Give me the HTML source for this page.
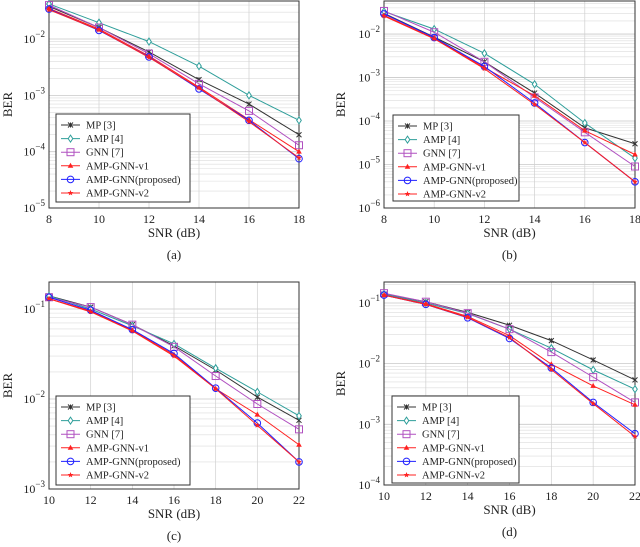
<!DOCTYPE html>
<html><head><meta charset="utf-8"><style>
body{margin:0;background:#fff;}
svg{display:block;font-family:"Liberation Serif",serif;}
</style></head><body>
<svg id="fig" width="640" height="547" viewBox="0 0 640 547" xmlns="http://www.w3.org/2000/svg"></svg>
<script>
const seriesNames = ["MP [3]","AMP [4]","GNN [7]","AMP-GNN-v1","AMP-GNN(proposed)","AMP-GNN-v2"];
const xA = [8,10,12,14,16,18];
const xC = [10,12,14,16,18,20,22];
const aMP=[0.038,0.016,0.0059,0.0019,0.0007,0.0002];
const aAMP=[0.042,0.0195,0.009,0.0033,0.001,0.00036];
const aGNN=[0.04,0.016,0.0055,0.0016,0.00053,0.00013];
const aV1=[0.035,0.015,0.005,0.0014,0.00037,0.0001];
const aProp=[0.034,0.0142,0.0048,0.0013,0.00036,0.000075];
const aV2=[0.033,0.0145,0.0047,0.00135,0.00034,0.000078];
const bMP=[0.03,0.0085,0.0023,0.00044,0.00007,0.00003];
const bAMP=[0.033,0.013,0.0036,0.0007,0.00009,0.000014];
const bGNN=[0.034,0.011,0.0023,0.00035,0.000055,0.000009];
const bV1=[0.027,0.008,0.0017,0.00038,0.00006,0.000017];
const bProp=[0.029,0.0083,0.0018,0.00026,0.000032,0.000004];
const bV2=[0.026,0.0078,0.0016,0.00024,0.000032,0.000004];
const cMP=[0.14,0.105,0.067,0.039,0.021,0.0105,0.0058];
const cAMP=[0.14,0.1,0.065,0.041,0.022,0.012,0.0065];
const cGNN=[0.135,0.105,0.067,0.038,0.018,0.0088,0.0046];
const cV1=[0.13,0.095,0.058,0.031,0.013,0.0067,0.0031];
const cProp=[0.135,0.097,0.059,0.032,0.0132,0.0054,0.002];
const cV2=[0.13,0.093,0.057,0.03,0.013,0.0051,0.002];
const dMP=[0.14,0.105,0.07,0.043,0.024,0.0115,0.0054];
const dAMP=[0.14,0.1,0.067,0.037,0.018,0.0079,0.0038];
const dGNN=[0.145,0.105,0.068,0.037,0.0155,0.006,0.0023];
const dV1=[0.135,0.097,0.06,0.029,0.0098,0.0043,0.0021];
const dProp=[0.135,0.095,0.057,0.026,0.0085,0.0023,0.0007];
const dV2=[0.135,0.095,0.058,0.027,0.008,0.0022,0.00063];
const xTicksA=[8,10,12,14,16,18];
const xTicksC=[10,12,14,16,18,20,22];

const colors=["#333333","#2e9e9a","#b050c0","#ff2020","#2020ff","#ff2020"];
const markers=["x","diamond","square","tri","circle","star"];
const NS="http://www.w3.org/2000/svg";
const svg=document.getElementById('fig');
function mk(tag,attrs,parent){const e=document.createElementNS(NS,tag);for(const k in attrs)e.setAttribute(k,attrs[k]);(parent||svg).appendChild(e);return e;}

function panel(cfg){
  const g=mk('g',{});
  
  
  const {L,R,T,B,xmin,xmax,lmin,lmax}=cfg;
  const X=v=>L+(v-xmin)/(xmax-xmin)*(R-L);
  const Y=v=>B-(Math.log10(v)-lmin)/(lmax-lmin)*(B-T);
  for(let d=Math.floor(lmin);d<=Math.ceil(lmax);d++){
    for(let m=1;m<10;m++){
      const v=m*Math.pow(10,d);const lv=Math.log10(v);
      if(lv<lmin-1e-9||lv>lmax+1e-9)continue;
      const y=Y(v);
      const gl=mk('line',{x1:L,x2:R,y1:y,y2:y,stroke:m===1?'#c8c8c8':'#dcdcdc','stroke-width':m===1?0.8:0.6},g);
      
      
      if(m===1){
        const t=mk('text',{x:L-4,y:y+4,'text-anchor':'end','font-size':12,fill:'#222'},g);
        
        
        t.appendChild(document.createTextNode('10'));
        const s=mk('tspan',{dy:-6,'font-size':9},t);s.textContent='−'+(-d);
      }
    }
  }
  cfg.xt.forEach(v=>{
    const x=X(v);
    const gl=mk('line',{x1:x,x2:x,y1:T,y2:B,stroke:'#d0d0d0','stroke-width':0.7},g);
    
    
    const t=mk('text',{x:x,y:B+15,'text-anchor':'middle','font-size':12,fill:'#222'},g);
    
    
    t.textContent=v;
  });
  const fr=mk('rect',{x:L,y:T,width:R-L,height:B-T,fill:'none',stroke:'#333','stroke-width':1},g);
  
  
  cfg.series.forEach((ys,i)=>{
    const pts=cfg.x.map((xv,j)=>[X(xv),Y(ys[j])]);
    const pl=mk('polyline',{points:pts.map(p=>p.join(',')).join(' '),fill:'none',stroke:colors[i],'stroke-width':1},g);
    
    
    pts.forEach(p=>{const m=marker(g,markers[i],p[0],p[1],colors[i]);
      
      });
  });
  const xl=mk('text',{x:(L+R)/2,y:B+29,'text-anchor':'middle','font-size':13,fill:'#222'},g);
  
  
  xl.textContent='SNR (dB)';
  const cy=(T+B)/2;
  const yl=mk('text',{x:cfg.ylx,y:cy,'text-anchor':'middle','font-size':13,fill:'#222',transform:`rotate(-90 ${cfg.ylx} ${cy})`},g);
  
  
  yl.textContent='BER';
  const cap=mk('text',{x:(L+R)/2,y:B+51,'text-anchor':'middle','font-size':13,fill:'#222'},g);
  
  
  cap.textContent='('+cfg.id+')';
  const lg=cfg.leg;
  const lgG=mk('g',{},g);
  
  
  mk('rect',{x:lg[0],y:lg[1],width:lg[2],height:lg[3],fill:'#fff',stroke:'#333','stroke-width':1},lgG);
  seriesNames.forEach((n,i)=>{
    const y=lg[1]+11+i*13.6;
    const e=mk('g',{},lgG);
    
    
    mk('line',{x1:lg[0]+5,x2:lg[0]+24,y1:y,y2:y,stroke:colors[i],'stroke-width':1},e);
    marker(e,markers[i],lg[0]+14.5,y,colors[i]);
    const t=mk('text',{x:lg[0]+30,y:y+3.5,'font-size':10.5,fill:'#222'},e);
    t.textContent=n;
  });
}
function marker(g,type,x,y,c){
  let e;
  if(type==='x'){e=mk('path',{d:`M${x-2.5},${y-2.5}L${x+2.5},${y+2.5}M${x-2.5},${y+2.5}L${x+2.5},${y-2.5}M${x},${y-2.5}L${x},${y+2.5}`,stroke:c,'stroke-width':1,fill:'none'},g);}
  else if(type==='diamond'){e=mk('path',{d:`M${x},${y-3.5}L${x+2.3},${y}L${x},${y+3.5}L${x-2.3},${y}Z`,stroke:c,fill:'#fff','stroke-width':1},g);}
  else if(type==='square'){e=mk('rect',{x:x-3.5,y:y-3.5,width:7,height:7,stroke:c,fill:'none','stroke-width':1},g);}
  else if(type==='tri'){e=mk('path',{d:`M${x},${y-3}L${x+2.8},${y+2}L${x-2.8},${y+2}Z`,fill:c},g);}
  else if(type==='circle'){e=mk('circle',{cx:x,cy:y,r:3.3,stroke:c,fill:'none','stroke-width':1},g);}
  else {let d='';for(let k=0;k<5;k++){const a=-Math.PI/2+k*2*Math.PI/5;const a2=a+Math.PI/5;d+=(k?'L':'M')+(x+3*Math.cos(a))+','+(y+3*Math.sin(a))+'L'+(x+1.3*Math.cos(a2))+','+(y+1.3*Math.sin(a2));}
    e=mk('path',{d:d+'Z',fill:c},g);}
  return e;
}
panel({id:'a',L:49,R:299,T:1,B:208,xmin:8,xmax:18,lmin:-5,lmax:-1.325,xt:xTicksA,x:xA,ylx:12,
  series:[aMP,aAMP,aGNN,aV1,aProp,aV2],leg:[56,114,134,88]});
panel({id:'b',L:384,R:635,T:1,B:208,xmin:8,xmax:18,lmin:-6,lmax:-1.24,xt:xTicksA,x:xA,ylx:345,
  series:[bMP,bAMP,bGNN,bV1,bProp,bV2],leg:[393,115,126,86]});
panel({id:'c',L:49,R:299,T:282,B:489,xmin:10,xmax:22,lmin:-3,lmax:-0.7,xt:xTicksC,x:xC,ylx:12,
  series:[cMP,cAMP,cGNN,cV1,cProp,cV2],leg:[56,396,134,89]});
panel({id:'d',L:384,R:635,T:282,B:485,xmin:10,xmax:22,lmin:-4,lmax:-0.654,xt:xTicksC,x:xC,ylx:345,
  series:[dMP,dAMP,dGNN,dV1,dProp,dV2],leg:[392,396,127,87]});
</script>
</body></html>
